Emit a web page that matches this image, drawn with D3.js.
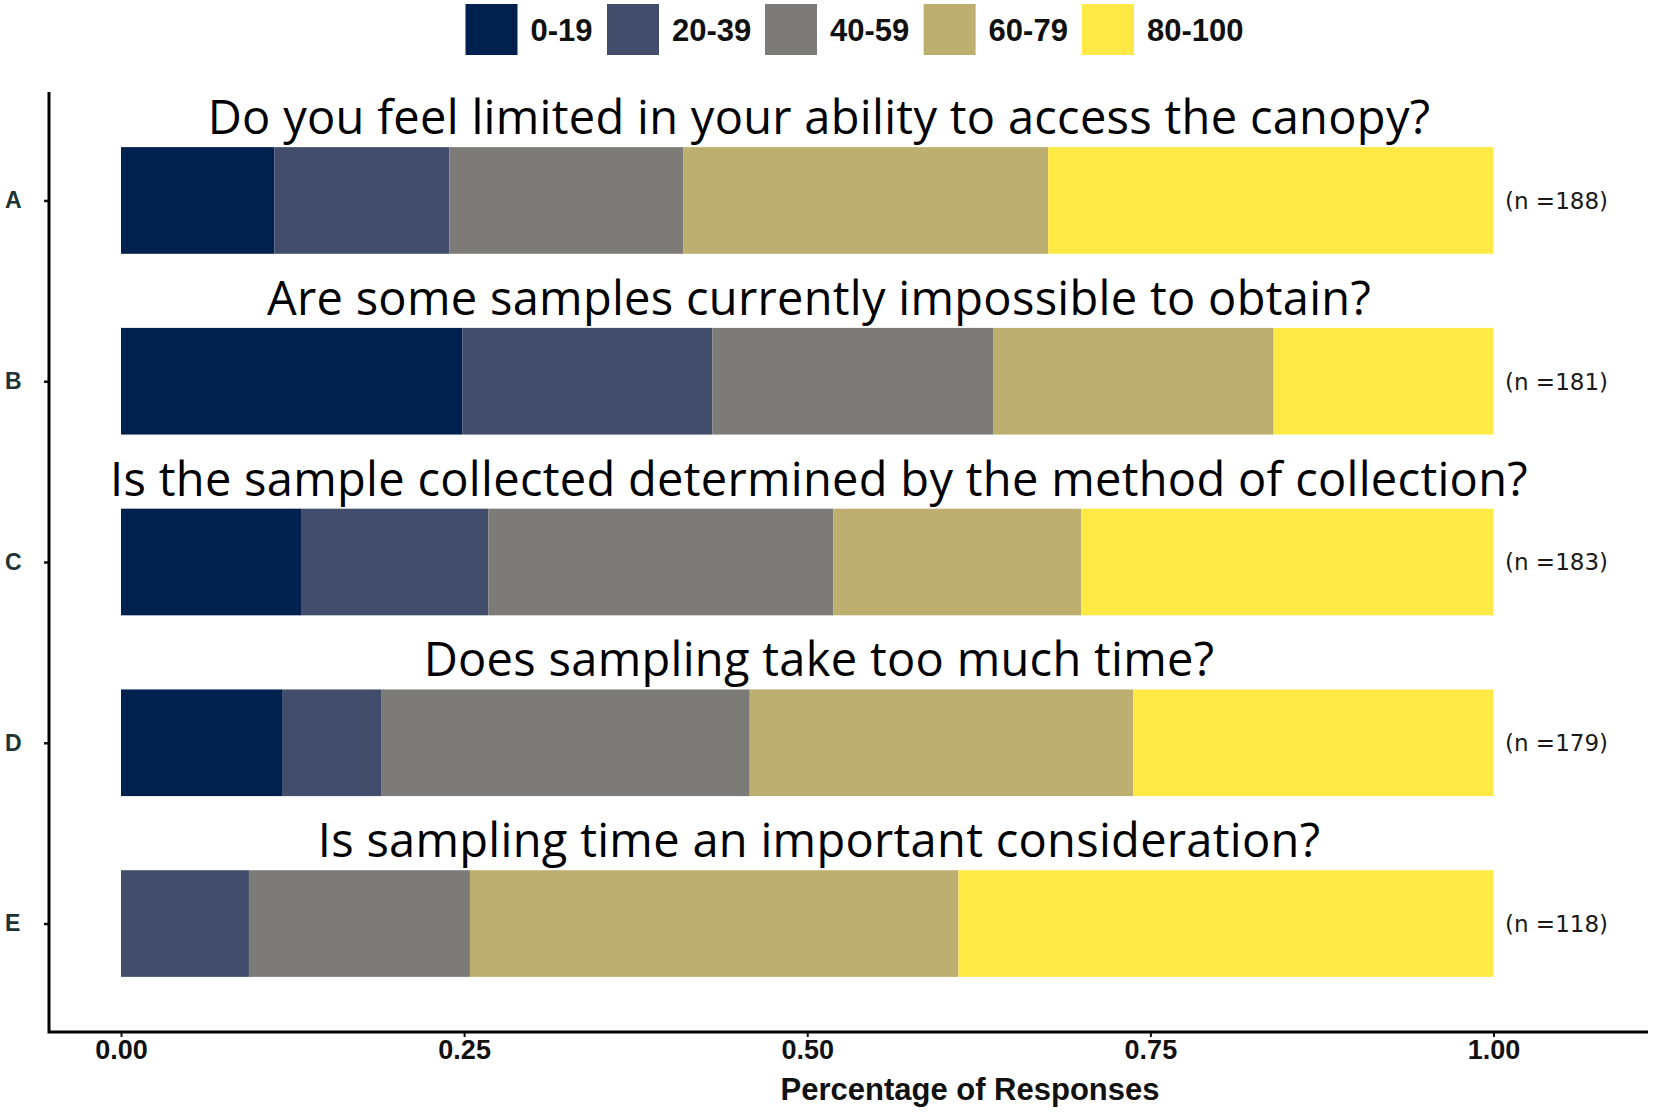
<!DOCTYPE html>
<html>
<head>
<meta charset="utf-8">
<script src="https://cdn.jsdelivr.net/npm/d3@7"></script>
<style>
  html, body { margin: 0; padding: 0; background: #ffffff; }
  svg { display: block; }
</style>
</head>
<body>
<svg id="chart" width="1655" height="1112"></svg>
<script>
// ---------------- data ----------------
const categories = ["A", "B", "C", "D", "E"];
const questions = [
  "Do you feel limited in your ability to access the canopy?",
  "Are some samples currently impossible to obtain?",
  "Is the sample collected determined by the method of collection?",
  "Does sampling take too much time?",
  "Is sampling time an important consideration?"
];
const groups = ["0-19", "20-39", "40-59", "60-79", "80-100"];
// response counts per group, one value per category (A..E)
const counts0_19   = [21, 45, 24, 21, 0];
const counts20_39  = [24, 33, 25, 13, 11];
const counts40_59  = [32, 37, 46, 48, 19];
const counts60_79  = [50, 37, 33, 50, 42];
const counts80_100 = [61, 29, 55, 47, 46];
const xTicks = [0, 0.25, 0.5, 0.75, 1];
const colors = ["#00204D", "#414D6B", "#7C7B78", "#BCAF6F", "#FFE945"];

const groupCounts = [counts0_19, counts20_39, counts40_59, counts60_79, counts80_100];
const totals = categories.map((c, i) => d3.sum(groupCounts, g => g[i]));
const table = categories.map((c, i) => {
  const row = { cat: c, n: totals[i], q: questions[i] };
  groups.forEach((g, j) => { row[g] = groupCounts[j][i] / totals[i]; });
  return row;
});
const series = d3.stack().keys(groups)(table);

// ---------------- layout ----------------
const svg = d3.select("#chart");
const axisLeftX = 49, axisRightX = 1648, axisTopY = 92, axisBottomY = 1032;

const x = d3.scaleLinear().domain([0, 1]).range([121, 1493.5]);
const y = d3.scalePoint().domain(categories).range([axisTopY, axisBottomY]).padding(0.6);
const barH = y.step() * 0.59;
const color = d3.scaleOrdinal().domain(groups).range(colors);

// bars
svg.append("g").selectAll("g")
  .data(series)
  .join("g")
  .attr("fill", d => color(d.key))
  .selectAll("rect")
  .data(d => d)
  .join("rect")
  .attr("x", d => x(d[0]))
  .attr("width", d => Math.max(0, x(d[1]) - x(d[0])))
  .attr("y", d => y(d.data.cat) - barH / 2)
  .attr("height", barH);

// question titles above bars
svg.append("g").selectAll("text")
  .data(table)
  .join("text")
  .attr("x", 819)
  .attr("y", d => y(d.cat) - barH / 2 - 13)
  .attr("text-anchor", "middle")
  .attr("font-family", "'Open Sans', 'Noto Sans', sans-serif")
  .attr("font-size", 47)
  .attr("letter-spacing", 0.3)
  .attr("fill", "#000")
  .text(d => d.q);

// n labels
svg.append("g").selectAll("text")
  .data(table)
  .join("text")
  .attr("x", 1505)
  .attr("y", d => y(d.cat))
  .attr("dy", "0.36em")
  .attr("font-family", "'DejaVu Sans', sans-serif")
  .attr("font-size", 23)
  .attr("fill", "#1a1a1a")
  .text(d => "(n =" + d.n + ")");

// x axis
const xAxis = svg.append("g")
  .attr("transform", `translate(0,${axisBottomY})`)
  .call(d3.axisBottom(x).tickValues(xTicks).tickFormat(d3.format(".2f")).tickSize(5).tickPadding(3));
xAxis.select(".domain").remove();
xAxis.selectAll(".tick line").attr("stroke", "#111").attr("stroke-width", 2);
xAxis.selectAll(".tick text")
  .attr("font-family", "'Liberation Sans', Arial, sans-serif")
  .attr("font-weight", "bold")
  .attr("font-size", 27)
  .attr("fill", "#111");

// y axis
const yAxis = svg.append("g")
  .attr("transform", `translate(${axisLeftX},0)`)
  .call(d3.axisLeft(y).tickSize(5));
yAxis.select(".domain").remove();
yAxis.selectAll(".tick line").attr("stroke", "#111").attr("stroke-width", 2.5);
yAxis.selectAll(".tick text")
  .attr("x", 5 - axisLeftX)
  .attr("text-anchor", "start")
  .attr("font-family", "'Liberation Sans', Arial, sans-serif")
  .attr("font-weight", "bold")
  .attr("font-size", 23)
  .attr("fill", "#1c3534");

// axis lines
svg.append("path")
  .attr("d", `M${axisLeftX},${axisTopY}V${axisBottomY}H${axisRightX}`)
  .attr("fill", "none")
  .attr("stroke", "#000")
  .attr("stroke-width", 3);

// x axis title
svg.append("text")
  .attr("x", 970)
  .attr("y", 1100)
  .attr("text-anchor", "middle")
  .attr("font-family", "'Liberation Sans', Arial, sans-serif")
  .attr("font-weight", "bold")
  .attr("font-size", 31)
  .attr("fill", "#111")
  .text("Percentage of Responses");

// legend
const legendX = [465.5, 607, 765, 923.6, 1082];
const legend = svg.append("g").selectAll("g")
  .data(groups)
  .join("g")
  .attr("transform", (d, i) => `translate(${legendX[i]},4)`);
legend.append("rect")
  .attr("width", 52)
  .attr("height", 51)
  .attr("fill", d => color(d));
legend.append("text")
  .attr("x", 65)
  .attr("y", 26)
  .attr("dy", "0.36em")
  .attr("font-family", "'Liberation Sans', Arial, sans-serif")
  .attr("font-weight", "bold")
  .attr("font-size", 31)
  .attr("fill", "#111")
  .text(d => d);
</script>
</body>
</html>
